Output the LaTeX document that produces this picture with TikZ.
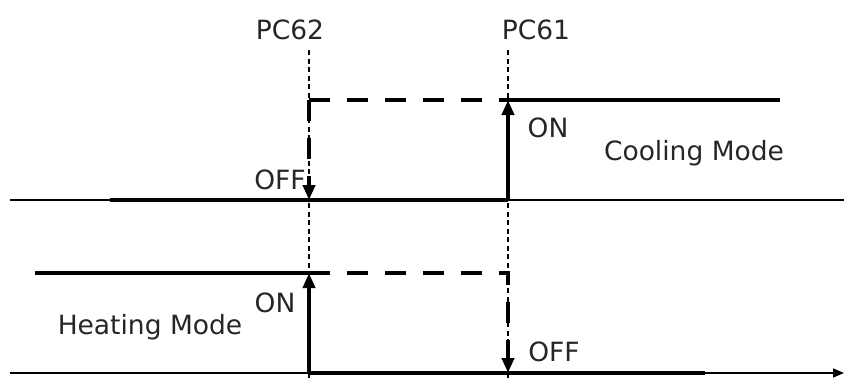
\documentclass[tikz,border=0pt]{standalone}
\usepackage{fontspec}
\setmainfont{DejaVu Sans}
\usetikzlibrary{arrows.meta}

\begin{document}
\begin{tikzpicture}[x=1pt,y=-1pt,
  axis/.style={line width=1.6pt},
  level/.style={line width=4.5pt},
  dashlevel/.style={line width=4.5pt, dash pattern=on 21pt off 17pt},
  guide/.style={line width=1.3pt, dash pattern=on 5pt off 3.5pt},
  lbl/.style={font=\fontsize{26.5}{30}\selectfont, text=black!85, inner sep=0pt},
  >={Triangle[length=15pt,width=12pt]}]
\useasboundingbox (0,0) rectangle (844,381);
% switch points
\node[lbl] (pc62) at (290,30) {PC62};
\node[lbl] (pc61) at (536,30) {PC61};
\coordinate (g62) at (309,50);
\coordinate (g61) at (508,50);
\coordinate (g62b) at (309,378);
\coordinate (g61b) at (508,378);
\draw[guide] (g62) -- (g62b);
\draw[guide] (g61) -- (g61b);
% cooling mode
\coordinate (cA) at (10,200);
\coordinate (cB) at (110,200);
\coordinate (cOff) at (309,200);
\coordinate (cOn) at (508,200);
\coordinate (cTop) at (508,100);
\coordinate (cEnd) at (780,100);
\coordinate (cCorner) at (309,100);
\coordinate (cAxisEnd) at (844,200);
\draw[axis] (cA) -- (cAxisEnd);
\draw[level] (cB) -- (cOn);
\draw[level,->] (cOn) -- (cTop);
\draw[level] (cTop) -- (cEnd);
\draw[dashlevel] (cCorner) -- (cTop);
\draw[dashlevel,->] (cCorner) -- (cOff);
\node[lbl] (offC) at (280,180) {OFF};
\node[lbl] (onC) at (548,128) {ON};
\node[lbl] (cool) at (694,153) {Cooling Mode};
% heating mode
\coordinate (hA) at (10,373);
\coordinate (hB) at (35,273);
\coordinate (hTop) at (309,273);
\coordinate (hOn) at (309,373);
\coordinate (hCorner) at (508,273);
\coordinate (hOff) at (508,373);
\coordinate (hEnd) at (705,373);
\coordinate (hAxisEnd) at (844,373);
\draw[axis,->,>={Triangle[length=11pt,width=9pt]}] (hA) -- (hAxisEnd);
\draw[level] (hB) -- (hTop);
\draw[level,->] (hOn) -- (hTop);
\draw[level] (hOn) -- (hEnd);
\draw[dashlevel,->] (hTop) -- (hCorner) -- (hOff);
\node[lbl] (onH) at (275,303) {ON};
\node[lbl] (heat) at (150,327) {Heating Mode};
\node[lbl] (offH) at (554,352) {OFF};
\end{tikzpicture}
\end{document}
